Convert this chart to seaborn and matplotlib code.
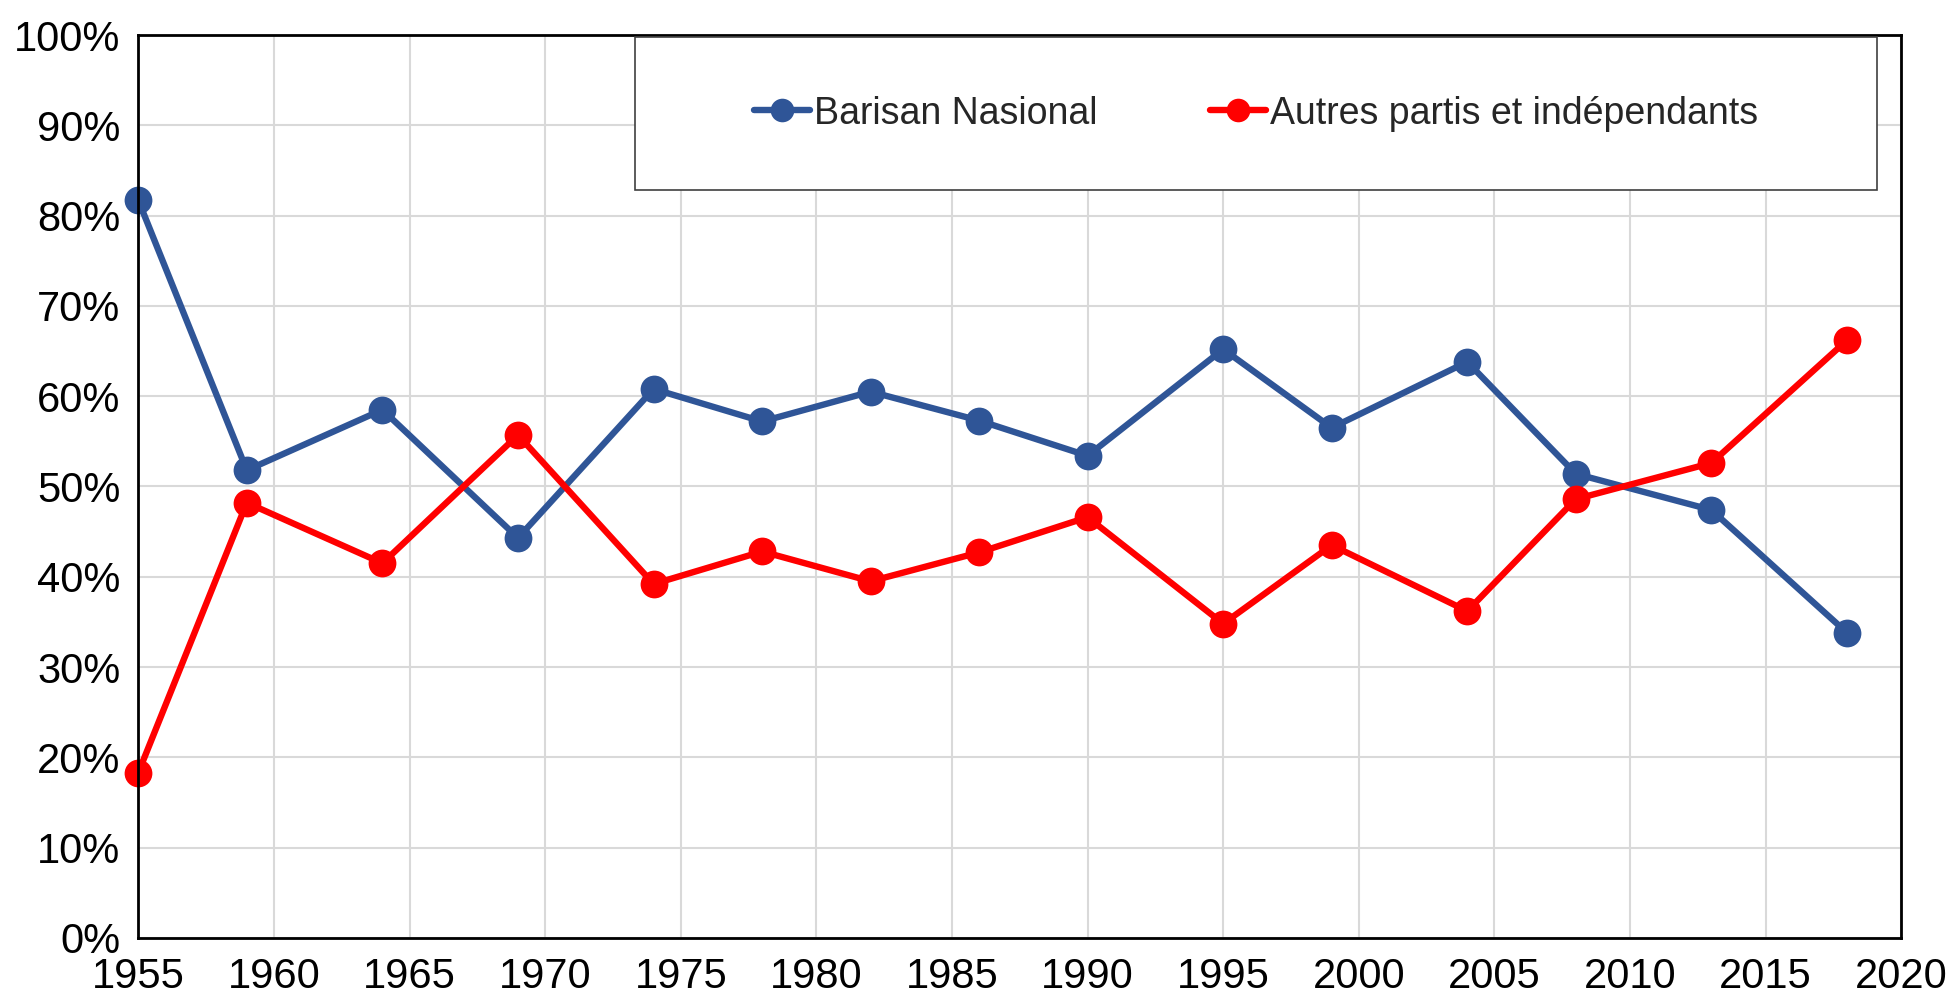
import matplotlib
matplotlib.use("Agg")
import matplotlib.pyplot as plt
import seaborn as sns
import pandas as pd
from matplotlib.patches import Rectangle
from matplotlib.ticker import PercentFormatter, MultipleLocator

years = [1955, 1959, 1964, 1969, 1974, 1978, 1982, 1986, 1990, 1995, 1999, 2004, 2008, 2013, 2018]
barisan = [81.7, 51.8, 58.5, 44.3, 60.8, 57.2, 60.5, 57.3, 53.4, 65.2, 56.5, 63.8, 51.4, 47.4, 33.8]
autres = [18.3, 48.2, 41.5, 55.7, 39.2, 42.8, 39.5, 42.7, 46.6, 34.8, 43.5, 36.2, 48.6, 52.6, 66.2]
series_names = ["Barisan Nasional", "Autres partis et indépendants"]
colors = ["#2F5597", "#FF0000"]
xticks = list(range(1955, 2021, 5))

df = pd.concat([
    pd.DataFrame({"year": years, "value": barisan, "serie": series_names[0]}),
    pd.DataFrame({"year": years, "value": autres, "serie": series_names[1]}),
])

sns.set_theme(style="white")
plt.rcParams["font.family"] = ["Liberation Sans", "DejaVu Sans"]

fig = plt.figure(figsize=(19.48, 10.01), dpi=100)
ax = fig.add_axes([0.071, 0.063, 0.905, 0.902])

sns.lineplot(data=df, x="year", y="value", hue="serie", palette=colors,
             marker="o", markersize=20, markeredgewidth=0, linewidth=4.6,
             ax=ax, legend=True, clip_on=False)

ax.set_xlim(1955, 2020)
ax.set_ylim(0, 100)
ax.set_xticks(xticks)
ax.yaxis.set_major_locator(MultipleLocator(10))
ax.yaxis.set_major_formatter(PercentFormatter(decimals=0))
ax.grid(True, color="#D9D9D9", linewidth=1.5)
ax.set_axisbelow(True)
for s in ax.spines.values():
    s.set_color("black")
    s.set_linewidth(2)
ax.set_xlabel("")
ax.set_ylabel("")
ax.tick_params(axis="both", labelsize=30, colors="black", length=0)
ax.tick_params(axis="x", pad=14)
ax.tick_params(axis="y", pad=13)
for lbl in ax.get_xticklabels() + ax.get_yticklabels():
    lbl.set_color("black")

# legend box
rect = Rectangle((0.282, 0.828), 0.704, 0.17, transform=ax.transAxes,
                 facecolor="white", edgecolor="#404040", linewidth=1.2, zorder=5)
ax.add_patch(rect)
handles, labels = ax.get_legend_handles_labels()
for h in handles:
    h.set_markersize(17)
leg = ax.legend(handles, labels, loc="center", bbox_to_anchor=(0.634, 0.913),
                ncol=2, frameon=False, fontsize=27, handlelength=1.5,
                handletextpad=0.1, columnspacing=3.0)
leg.set_zorder(6)

fig.savefig("out.png", dpi=100, facecolor="white")
